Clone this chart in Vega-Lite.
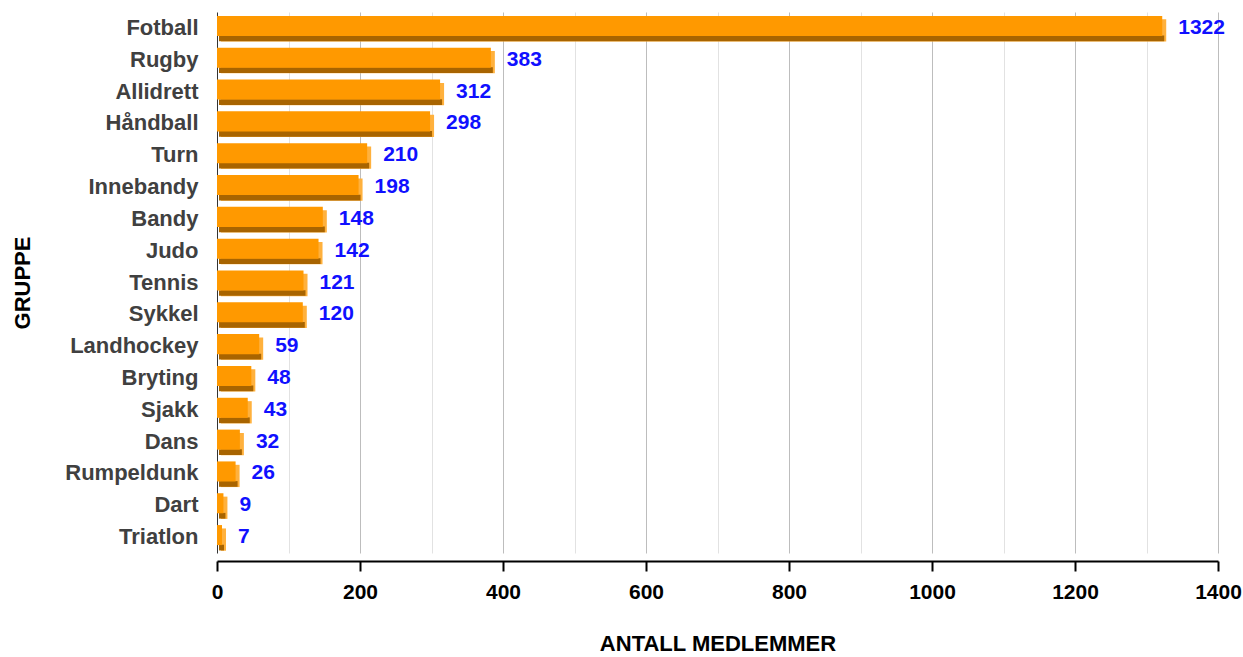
{
  "$schema": "https://vega.github.io/schema/vega-lite/v6.json",
  "width": 1001,
  "height": 541,
  "autosize": "none",
  "padding": {"left": 217, "top": 12, "right": 25, "bottom": 104},
  "background": "white",
  "config": {
    "view": {"stroke": null},
    "font": "Liberation Sans"
  },
  "data": {
    "values": [
      {"gruppe": "Fotball", "antall": 1322},
      {"gruppe": "Rugby", "antall": 383},
      {"gruppe": "Allidrett", "antall": 312},
      {"gruppe": "Håndball", "antall": 298},
      {"gruppe": "Turn", "antall": 210},
      {"gruppe": "Innebandy", "antall": 198},
      {"gruppe": "Bandy", "antall": 148},
      {"gruppe": "Judo", "antall": 142},
      {"gruppe": "Tennis", "antall": 121},
      {"gruppe": "Sykkel", "antall": 120},
      {"gruppe": "Landhockey", "antall": 59},
      {"gruppe": "Bryting", "antall": 48},
      {"gruppe": "Sjakk", "antall": 43},
      {"gruppe": "Dans", "antall": 32},
      {"gruppe": "Rumpeldunk", "antall": 26},
      {"gruppe": "Dart", "antall": 9},
      {"gruppe": "Triatlon", "antall": 7}
    ]
  },
  "encoding": {
    "y": {
      "field": "gruppe",
      "type": "nominal",
      "sort": null,
      "title": "GRUPPE",
      "scale": {"paddingInner": 0, "paddingOuter": 0},
      "axis": {
        "domain": false,
        "ticks": false,
        "labelFont": "Liberation Sans",
        "labelFontSize": 22,
        "labelFontWeight": "bold",
        "labelColor": "#404040",
        "labelPadding": 19,
        "titleFont": "Liberation Sans",
        "titleFontSize": 22,
        "titleFontWeight": "bold",
        "titleColor": "#000000",
        "titlePadding": 30
      }
    },
    "x": {
      "field": "antall",
      "type": "quantitative",
      "title": "ANTALL MEDLEMMER",
      "scale": {"domain": [0, 1400], "nice": false},
      "axis": {
        "values": [0, 100, 200, 300, 400, 500, 600, 700, 800, 900, 1000, 1100, 1200, 1300, 1400],
        "labelExpr": "datum.value % 200 === 0 ? format(datum.value, 'd') : ''",
        "labelFlush": false,
        "grid": true,
        "gridColor": {"expr": "datum.value === 0 ? '#333333' : (datum.value % 200 === 0 ? '#bdbdbd' : '#e2e2e2')"},
        "gridWidth": 1,
        "tickColor": {"condition": {"test": "datum.value % 200 === 0", "value": "#000000"}, "value": "transparent"},
        "tickSize": 10,
        "tickWidth": 2,
        "domainColor": "#000000",
        "domainWidth": 2,
        "offset": 8,
        "labelFont": "Liberation Sans",
        "labelFontSize": 21,
        "labelFontWeight": "bold",
        "labelColor": "#000000",
        "labelPadding": 10,
        "titleFont": "Liberation Sans",
        "titleFontSize": 22,
        "titleFontWeight": "bold",
        "titleColor": "#000000",
        "titlePadding": 31
      }
    }
  },
  "layer": [
    {"mark": {"type": "bar", "color": "#ffb13d", "height": {"band": 0.7}, "yOffset": 2.5, "xOffset": 4}},
    {"mark": {"type": "bar", "color": "#a86400", "height": {"band": 0.18}, "yOffset": 10.5, "xOffset": 2}},
    {"mark": {"type": "bar", "color": "#ff9900", "height": {"band": 0.63}, "yOffset": -2}},
    {
      "mark": {"type": "text", "align": "left", "dx": 16, "fontSize": 21, "fontWeight": "bold", "color": "#1010ff", "font": "Liberation Sans"},
      "encoding": {"text": {"field": "antall", "type": "quantitative"}}
    }
  ]
}
